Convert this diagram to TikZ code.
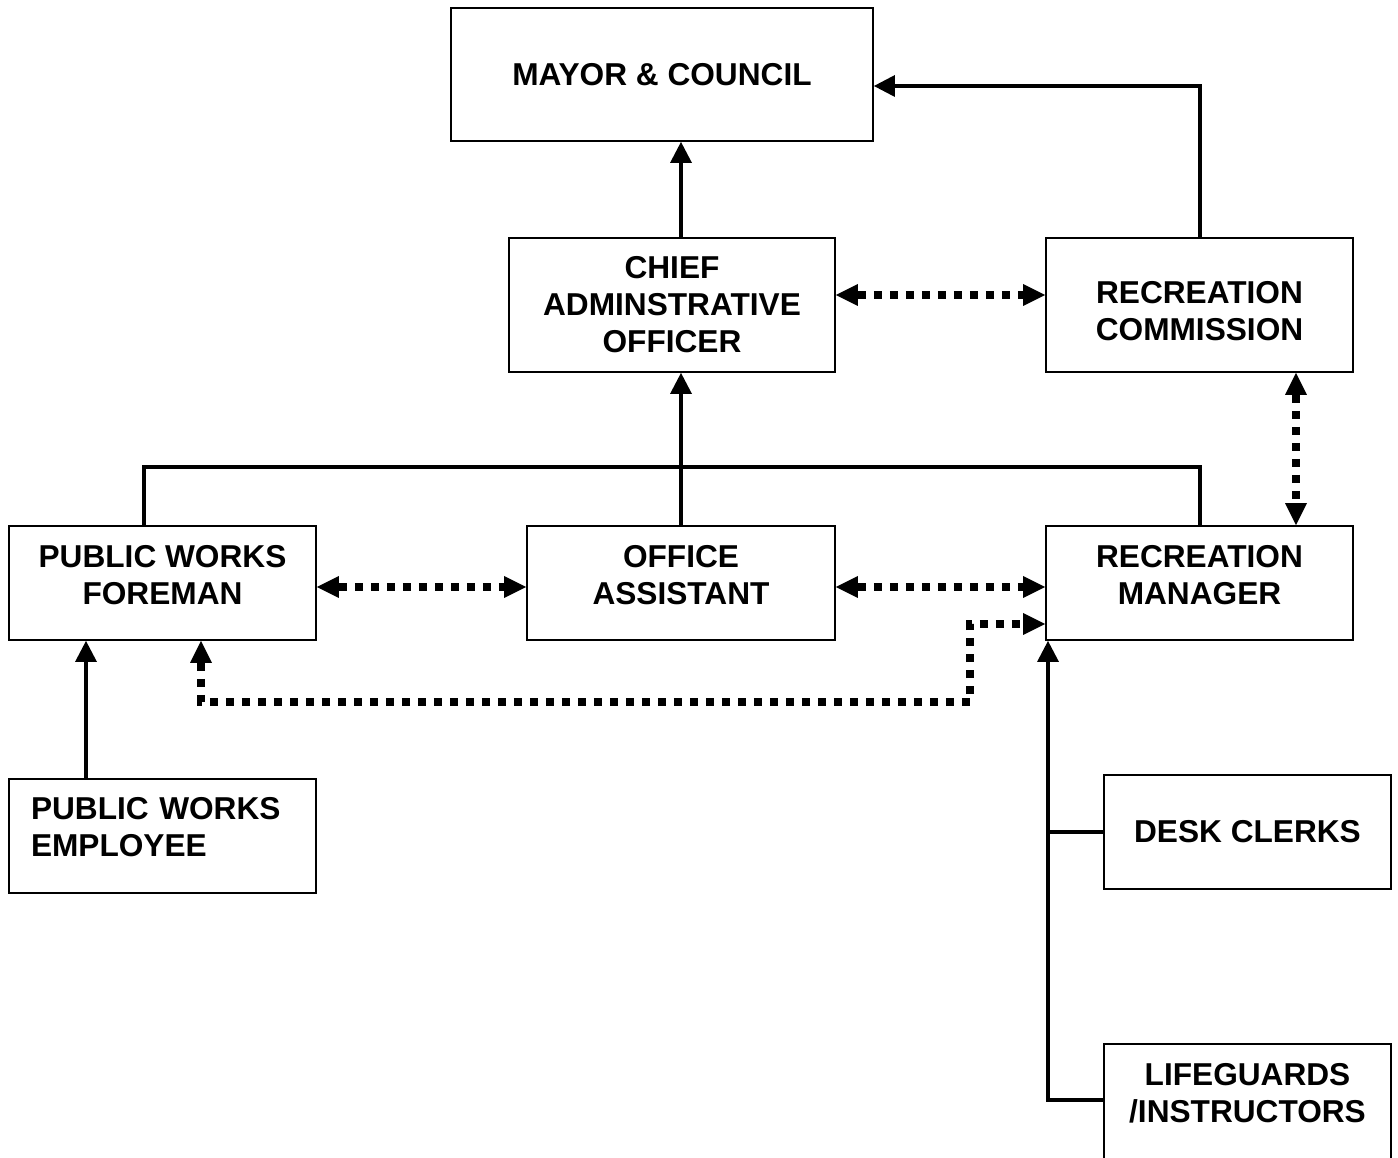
\documentclass[tikz,border=0pt]{standalone}
\usepackage{fontspec}
\setmainfont{Liberation Sans}
\usetikzlibrary{positioning,calc,arrows.meta}

\begin{document}
\begin{tikzpicture}[
		box/.style={rectangle, draw=black, line width=1.1pt, fill=white, align=center, font=\bfseries\fontsize{18}{21}\selectfont, minimum width=6.14cm, minimum height=2.28cm},
		lift/.style={text depth=9pt},
		line/.style={line width=0.08cm},
		link/.style={line width=0.08cm, -{Triangle[length=0.42cm, width=0.44cm, line width=0pt]}},
		dotlink/.style={line width=0.16cm, dash pattern=on 0.16cm off 0.16cm, {Triangle[length=0.44cm, width=0.44cm, line width=0pt]}-{Triangle[length=0.44cm, width=0.44cm, line width=0pt]}}]
		\useasboundingbox (0,0) rectangle (27.96,-23.16);
		\clip (0,0) rectangle (27.96,-23.16);
		\node[box, minimum width=8.44cm, minimum height=2.66cm] (mayor) at (13.24,-1.49) {MAYOR \& COUNCIL};
		\node[box, minimum width=6.52cm, minimum height=2.68cm] (cao) at (13.44,-6.1) {CHIEF\\ADMINSTRATIVE\\OFFICER};
		\node[box, minimum height=2.68cm, text height=41pt] (rc) at (23.99,-6.1) {RECREATION\\COMMISSION};
		\node[box, lift] (pwf) at (3.25,-11.66) {PUBLIC WORKS\\FOREMAN};
		\node[box, lift, minimum width=6.16cm] (oa) at (13.62,-11.66) {OFFICE\\ASSISTANT};
		\node[box, lift] (rm) at (23.99,-11.66) {RECREATION\\MANAGER};
		\node[box, align=left, text width=5.26cm, text depth=31.5pt] (pwe) at (3.25,-16.72) {PUBLIC WORKS\\EMPLOYEE};
		\node[box, minimum width=5.74cm] (dc) at (24.95,-16.64) {DESK CLERKS};
		\node[box, minimum width=5.74cm, minimum height=2.68cm] (lg) at (24.95,-22.22) {LIFEGUARDS\\/INSTRUCTORS\\\mbox{}};
		% solid lines
		\coordinate (bar) at (13.64,-9.34);
		\coordinate (spine) at (20.96,-22.0);
		\draw[link] (oa.north |- cao.north) -- (oa.north |- mayor.south);
		\draw[link] (rc.north) |- ([yshift=-0.23cm]mayor.east);
		\draw[line] ([xshift=-0.37cm]pwf.north) |- (bar) -| (rm.north);
		\draw[link] (oa.north) -- (oa.north |- cao.south);
		\draw[link] ([xshift=-1.53cm]pwe.north) -- ([xshift=-1.53cm]pwf.south);
		\draw[link] (lg.west |- spine) -| (spine |- rm.south);
		\draw[line] (spine |- dc.west) -- (dc.west);
		% dotted lines
		\coordinate (loop) at (19.4,-14.04);
		\draw[dotlink] ([yshift=0.2cm]cao.east) -- ([yshift=0.2cm]rc.west);
		\draw[dotlink] ([xshift=1.93cm]rc.south) -- ([xshift=1.93cm]rm.north);
		\draw[dotlink] ([yshift=-0.08cm]pwf.east) -- ([yshift=-0.08cm]oa.west);
		\draw[dotlink] ([yshift=-0.08cm]oa.east) -- ([yshift=-0.08cm]rm.west);
		\draw[dotlink] ([xshift=0.77cm]pwf.south) |- (loop) |- ([yshift=-0.82cm]rm.west);
	\end{tikzpicture}
\end{document}
